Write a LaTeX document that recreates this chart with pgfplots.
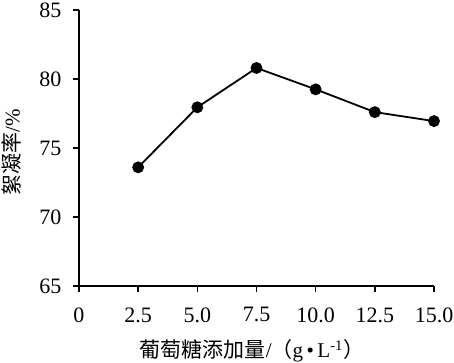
\documentclass[border=0pt]{standalone}
\usepackage{pgfplots}
\pgfplotsset{compat=1.18}
\usepackage{fontspec}
\setmainfont{Liberation Serif}
\newfontfamily\cjk{Noto Sans CJK SC}
\begin{document}
\begin{tikzpicture}
\begin{axis}[
  at={(0,0)}, anchor=south west,
  scale only axis,
  width=355bp, height=276bp,
  xmin=0, xmax=15, ymin=65, ymax=85,
  axis lines=left,
  axis line style={line width=1.6bp, -},
  xtick={0,2.5,5,7.5,10,12.5,15},
  xticklabels={0,2.5,5.0,7.5,10.0,12.5,15.0},
  ytick={65,70,75,80,85},
  tick style={line width=1.6bp, black},
  tick align=outside,
  major tick length=6bp,
  /pgf/number format/assume math mode=true,
  tick label style={font=\fontsize{22bp}{24bp}\selectfont},
  xticklabel style={yshift=-12bp},
  yticklabel style={xshift=-8bp},
  xlabel={{\cjk 葡萄糖添加量}/{\cjk （}g\,•\,L\textsuperscript{-1}{\cjk ）}},
  ylabel={{\cjk 絮凝率}/\%},
  label style={font=\fontsize{21bp}{24bp}\selectfont},
  xlabel style={at={(axis description cs:0.487,-0.2355)}, anchor=center},
  ylabel style={at={(axis description cs:-0.19,0.486)}, anchor=center, rotate=0},
  clip=false,
]
\addplot[black, line width=1.8bp, mark=*, mark size=5bp] coordinates {
  (2.5,73.6) (5,77.95) (7.5,80.8) (10,79.25) (12.5,77.6) (15,76.95)
};
\end{axis}
\pgfresetboundingbox
\path[use as bounding box] (-79bp,-77bp) rectangle (375bp,286bp);
\end{tikzpicture}
\end{document}
